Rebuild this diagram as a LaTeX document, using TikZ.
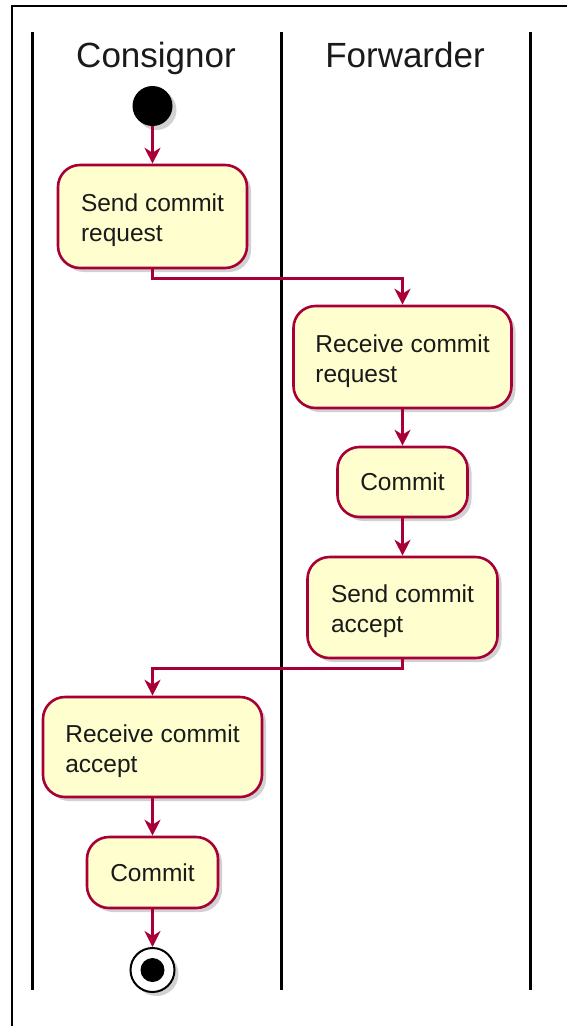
\documentclass[tikz,border=0pt]{standalone}
\usepackage{fontspec}
\setmainfont{Liberation Sans}
\usetikzlibrary{arrows.meta,shadows}
\definecolor{actfill}{HTML}{FEFECE}
\definecolor{actborder}{HTML}{A80036}
\definecolor{txt}{HTML}{1A1A1A}
\newcommand{\topstrut}{\rule{0pt}{26pt}}
\tikzset{
  lane/.style={line width=3pt, black},
  frameline/.style={line width=2pt, black},
  title/.style={font=\fontsize{35}{40}\selectfont, text=txt, anchor=base},
  shad/.style={drop shadow={shadow xshift=4pt, shadow yshift=-4pt, opacity=0.3, fill=black!60}},
  act/.style={draw=actborder, fill=actfill, line width=2.6pt, rounded corners=22pt,
    text=txt, font=\fontsize{24.5}{30}\selectfont, align=left, inner sep=0pt, shad},
  conn/.style={draw=actborder, line width=2.4pt,
    -{Stealth[length=16pt,width=16pt,inset=5pt]}},
}
\begin{document}
\begin{tikzpicture}[x=1pt,y=-1pt]
\useasboundingbox (0,0) rectangle (566,1026);
% outer frame
\draw[frameline] (12,1030) -- (12,6) -- (570,6);
% swimlanes
\draw[lane] (32,32) -- (32,990);
\draw[lane] (281,32) -- (281,990);
\draw[lane] (530,32) -- (530,990);
\node[title] (t1) at (156,67) {Consignor};
\node[title] (t2) at (405,67) {Forwarder};
% start
\node[circle, fill=black, minimum size=40pt, inner sep=0pt, shad] (start) at (152.5,106) {};
% activities
\node[act, minimum width=189pt, minimum height=103pt] (b1) at (152.5,216.5) {\topstrut Send commit\\request};
\node[act, minimum width=218pt, minimum height=102pt] (b2) at (402.5,357) {\topstrut Receive commit\\request};
\node[act, minimum width=130pt, minimum height=70pt] (b3) at (402.5,482) {Commit};
\node[act, minimum width=190pt, minimum height=101pt] (b4) at (402.5,607.5) {\topstrut Send commit\\accept};
\node[act, minimum width=219pt, minimum height=100pt] (b5) at (152.5,747) {\topstrut Receive commit\\accept};
\node[act, minimum width=131pt, minimum height=71pt] (b6) at (152.5,872.5) {Commit};
% end
\node[circle, draw=black, fill=white, line width=2pt, minimum size=44pt, inner sep=0pt, shad] (stop) at (152.5,970) {};
\node[circle, fill=black, minimum size=24pt, inner sep=0pt] (stopdot) at (stop.center) {};
% connectors
\draw[conn] (start.south) -- (b1.north);
\draw[conn] (b1.south) -- ++(0,9) -| (b2.north);
\draw[conn] (b2.south) -- (b3.north);
\draw[conn] (b3.south) -- (b4.north);
\draw[conn] (b4.south) -- ++(0,9) -| (b5.north);
\draw[conn] (b5.south) -- (b6.north);
\draw[conn] (b6.south) -- (stop.north);
\end{tikzpicture}
\end{document}
